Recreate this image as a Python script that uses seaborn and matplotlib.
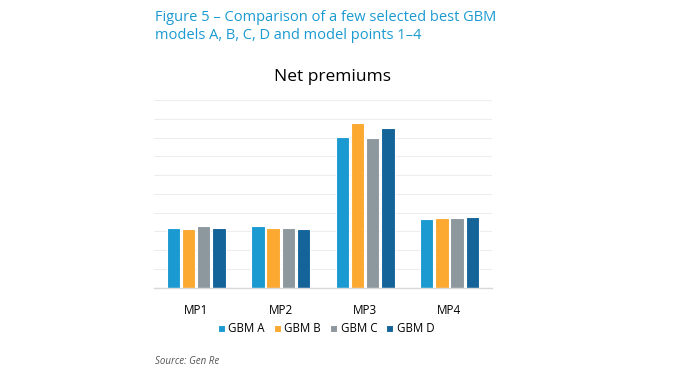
import matplotlib

matplotlib.use("Agg")
import matplotlib.pyplot as plt
import pandas as pd
import seaborn as sns

# values (units = gridline steps, no axis labels shown)
points = ["MP1", "MP2", "MP3", "MP4"]
models = ["GBM A", "GBM B", "GBM C", "GBM D"]
gbm_a = [3.16, 3.29, 8.03, 3.66]
gbm_b = [3.11, 3.20, 8.76, 3.73]
gbm_c = [3.27, 3.20, 7.96, 3.73]
gbm_d = [3.18, 3.13, 8.53, 3.75]
colors = ["#1B9AD1", "#FBA931", "#8C979E", "#146399"]

rows = []
for model, vals in zip(models, [gbm_a, gbm_b, gbm_c, gbm_d]):
    for mp, v in zip(points, vals):
        rows.append({"point": mp, "model": model, "value": v})
df = pd.DataFrame(rows)

sns.set_theme(style="white")
plt.rcParams["font.family"] = ["Open Sans", "DejaVu Sans"]

fig = plt.figure(figsize=(6.74, 3.8), dpi=100)
ax = fig.add_axes([154 / 674, 1 - 287.7 / 380, 337.7 / 674, 187.7 / 380])

sns.barplot(
    data=df,
    x="point",
    y="value",
    hue="model",
    palette=colors,
    saturation=1,
    width=0.72,
    gap=0.12,
    edgecolor="white",
    linewidth=0.8,
    ax=ax,
)

ax.set_ylim(0, 10)
ax.set_xlim(-0.5, 3.5)
ax.set_yticks(range(0, 11))
ax.yaxis.grid(True, color="#EDEDED", linewidth=0.8)
ax.set_axisbelow(True)
ax.tick_params(axis="y", left=False, labelleft=False)
ax.tick_params(axis="x", bottom=False, labelsize=8.5, pad=6, labelcolor="black")
ax.set_xlabel("")
ax.set_ylabel("")
for side in ["top", "left", "right"]:
    ax.spines[side].set_visible(False)
ax.spines["bottom"].set_color("#D9D9D9")
ax.spines["bottom"].set_linewidth(1.0)

leg = ax.legend(
    loc="upper center",
    bbox_to_anchor=(0.51, -0.13),
    ncol=4,
    frameon=False,
    fontsize=8.3,
    handlelength=0.6,
    handleheight=0.6,
    handletextpad=0.3,
    columnspacing=0.8,
)
for t in leg.get_texts():
    t.set_color("black")

fig.text(
    155 / 674,
    1 - 10 / 380,
    "Figure 5 – Comparison of a few selected best GBM\nmodels A, B, C, D and model points 1–4",
    color="#1B9AD1",
    fontsize=10.5,
    va="top",
    ha="left",
    linespacing=1.25,
)
fig.text(333 / 674, 1 - 77 / 380, "Net premiums", fontsize=12.5, ha="center", va="center",
         color="black")
fig.text(
    155 / 674,
    1 - 361 / 380,
    "Source: Gen Re",
    fontsize=7,
    style="italic",
    color="#555555",
    ha="left",
    va="center",
)

fig.savefig("out.png", dpi=100)
